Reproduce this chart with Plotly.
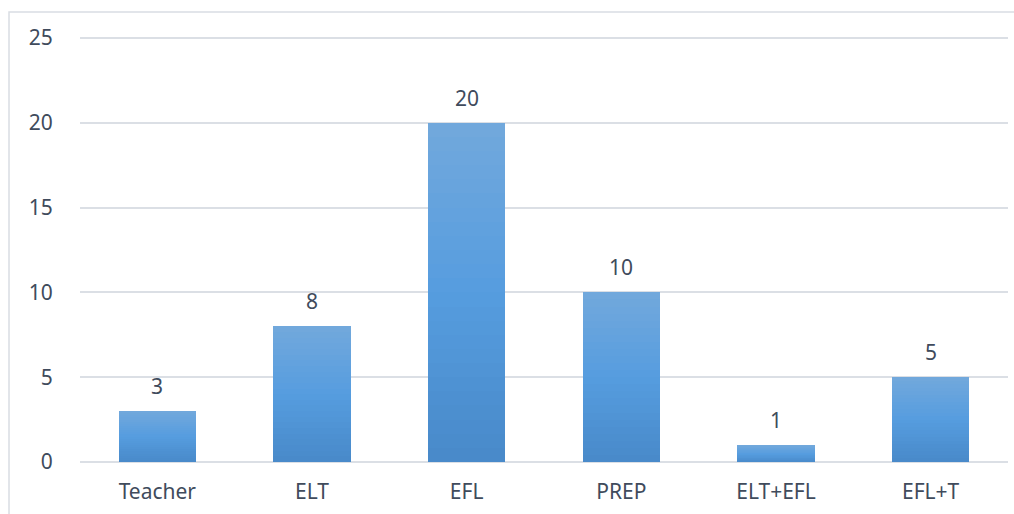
import plotly.graph_objects as go

categories = ["Teacher", "ELT", "EFL", "PREP", "ELT+EFL", "EFL+T"]
counts = [3, 8, 20, 10, 1, 5]
y_ticks = [0, 5, 10, 15, 20, 25]

FONT = "Noto Sans"
TEXT_COLOR = "#404b5c"
GRID_COLOR = "#dbdfe5"

# vertical gradient of each bar: light blue at the top, deeper blue at the base
stops = [(0.0, (0x48, 0x89, 0xc9)), (0.5, (0x56, 0x9d, 0xdf)), (1.0, (0x72, 0xa8, 0xdc))]


def blend(t):
    for (t0, c0), (t1, c1) in zip(stops, stops[1:]):
        if t <= t1:
            f = (t - t0) / (t1 - t0)
            return "rgb(%d,%d,%d)" % tuple(round(a + (b - a) * f) for a, b in zip(c0, c1))
    return "rgb(%d,%d,%d)" % stops[-1][1]


N_SLICES = 24
fig = go.Figure()
for i in range(N_SLICES):
    t = (i + 0.5) / N_SLICES
    fig.add_trace(go.Bar(
        x=categories,
        y=[v / N_SLICES for v in counts],
        marker=dict(color=blend(t), line=dict(width=0)),
        hoverinfo="skip",
        showlegend=False,
    ))

for cat, v in zip(categories, counts):
    fig.add_annotation(
        x=cat, y=v, text=str(v), showarrow=False,
        yanchor="bottom", yshift=9,
        font=dict(family=FONT, size=21, color=TEXT_COLOR),
    )

# light frame around the chart area
fig.add_shape(
    type="rect", xref="paper", yref="paper",
    x0=-0.0765, x1=1.02, y0=-0.15, y1=1.059,
    line=dict(color="#d9dde3", width=1.5), layer="below",
)

fig.update_layout(
    width=1014, height=514,
    margin=dict(l=80, r=6, t=37, b=52),
    barmode="stack", bargap=0.5,
    plot_bgcolor="white", paper_bgcolor="white",
    font=dict(family=FONT, size=21, color=TEXT_COLOR),
    xaxis=dict(
        showgrid=False, showline=False, zeroline=False,
        ticks="outside", ticklen=11, tickcolor="rgba(0,0,0,0)",
        tickfont=dict(family=FONT, size=21, color=TEXT_COLOR),
    ),
    yaxis=dict(
        range=[0, 25.06], tickvals=y_ticks,
        showgrid=True, gridcolor=GRID_COLOR, gridwidth=1.6,
        zeroline=True, zerolinecolor=GRID_COLOR, zerolinewidth=1.6,
        showline=False,
        ticks="outside", ticklen=22, tickcolor="rgba(0,0,0,0)",
        tickfont=dict(family=FONT, size=21, color=TEXT_COLOR),
    ),
)

fig.write_html("out.html")
